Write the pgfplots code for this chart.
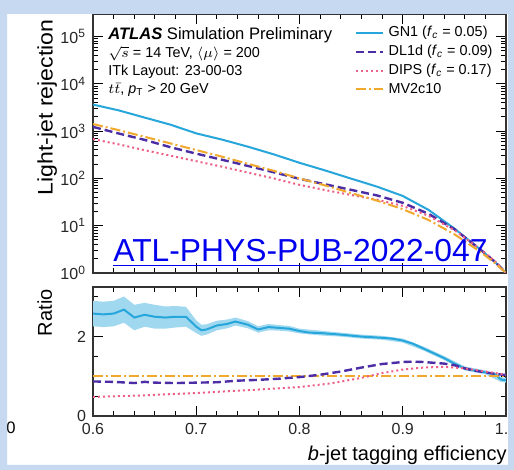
\documentclass[border=0pt]{standalone}
\usepackage{graphicx}
\usepackage{pgfplots}
\pgfplotsset{compat=1.18}
\usepackage{fontspec}
\setmainfont{Liberation Sans}
\definecolor{bgblue}{RGB}{198,217,240}
\definecolor{gnone}{RGB}{38,166,218}
\definecolor{gnband}{RGB}{160,216,240}
\definecolor{dlone}{RGB}{75,45,165}
\definecolor{dips}{RGB}{238,95,135}
\definecolor{mvtwo}{RGB}{240,168,45}
\definecolor{linkblue}{RGB}{0,0,238}

\pgfplotsset{
  atl/.style={
    scale only axis, width=206.5pt,
    tick align=inside, tick pos=both,
    xmin=0.6, xmax=1.0,
    xtick={0.6,0.7,0.8,0.9,1.0}, minor x tick num=4,
    major tick length=5pt, minor tick length=2.5pt,
    axis line style={black!80, line width=0.6pt},
    every tick/.style={black, line width=0.5pt},
    tick label style={font=\fontsize{8}{9}\selectfont, text=black!85},
    /pgf/number format/assume math mode=true,
  }
}

\begin{document}
\begin{tikzpicture}
\useasboundingbox (0pt,0pt) rectangle (257pt,235pt);
\clip (0pt,0pt) rectangle (257pt,235pt);
\fill[white] (0pt,0pt) rectangle (257pt,235pt);

% ---------------- top panel ----------------
\begin{axis}[atl,
  at={(46.5pt,228pt)}, anchor=north west, height=129.5pt,
  ymode=log, ymin=1, ymax=3e5,
  ytick={1,10,100,1000,10000,100000},
  yticklabels={10\textsuperscript{0},10\textsuperscript{1},10\textsuperscript{2},10\textsuperscript{3},10\textsuperscript{4},10\textsuperscript{5}},
  xticklabels={},
  legend style={at={(0.634,0.963)}, anchor=north west, draw=none, fill=none,
    inner sep=0pt, font=\fontsize{7.2}{8}\selectfont, row sep=0pt,
    nodes={inner ysep=1pt, text height=5.5pt, text depth=1.85pt}},
  legend cell align=left,
  legend image code/.code={\draw[#1] (0pt,0pt) -- (13.5pt,0pt);},
]
\addplot[gnone, line width=1pt] coordinates {
(0.600,3646) (0.625,2743) (0.650,1935) (0.675,1370) (0.700,896) (0.725,662)
(0.750,469) (0.775,323) (0.800,214) (0.825,147) (0.850,99) (0.875,67.1)
(0.900,42.6) (0.925,21.6) (0.950,8.71) (0.975,3.16) (0.990,1.66) (1.000,1.0)};
\addlegendentry{GN1 (\textit{f}\textsubscript{\textit{c}} = 0.05)}
\addplot[dlone, line width=1.2pt, dash pattern=on 4pt off 2pt] coordinates {
(0.600,1229) (0.625,890) (0.650,653) (0.675,457) (0.700,334) (0.725,248)
(0.750,184) (0.775,135) (0.800,98) (0.825,75.0) (0.850,57.3) (0.875,43.7)
(0.900,30.5) (0.925,17.8) (0.950,8.45) (0.975,3.16) (0.990,1.67) (1.000,1.0)};
\addlegendentry{DL1d (\textit{f}\textsubscript{\textit{c}} = 0.09)}
\addplot[dips, line width=1pt, dash pattern=on 1pt off 1.5pt] coordinates {
(0.600,678) (0.625,524) (0.650,395) (0.675,303) (0.700,231) (0.725,177)
(0.750,133) (0.775,100) (0.800,73) (0.825,56.6) (0.850,44.6) (0.875,35.6)
(0.900,26.2) (0.925,16.2) (0.950,8.05) (0.975,3.21) (0.990,1.71) (1.000,1.0)};
\addlegendentry{DIPS (\textit{f}\textsubscript{\textit{c}} = 0.17)}
\addplot[mvtwo, line width=1pt, dash pattern=on 5pt off 1.5pt on 1pt off 1.5pt] coordinates {
(0.600,1413) (0.625,1047) (0.650,759) (0.675,550) (0.700,398) (0.725,288)
(0.750,204) (0.775,145) (0.800,100) (0.825,70.8) (0.850,49.0) (0.875,33.9)
(0.900,22.4) (0.925,13.2) (0.950,6.6) (0.975,2.82) (0.990,1.58) (1.000,1.0)};
\addlegendentry{MV2c10}

\node[anchor=west, inner sep=0pt, font=\fontsize{8.3}{9}\selectfont] at (rel axis cs:0.036,0.919) {\textbf{\textit{ATLAS}} Simulation Preliminary};
\node[anchor=west, inner sep=0pt, font=\fontsize{7.2}{8}\selectfont] at (rel axis cs:0.036,0.846) {$\sqrt{s}$ = 14 TeV, $\langle\mu\rangle$ = 200};
\node[anchor=west, inner sep=0pt, font=\fontsize{7.2}{8}\selectfont] at (rel axis cs:0.036,0.776) {ITk Layout: 23-00-03};
\node[anchor=west, inner sep=0pt, font=\fontsize{7.2}{8}\selectfont] at (rel axis cs:0.036,0.707) {$t\bar{t}$, \textit{p}\textsubscript{T} > 20 GeV};
\end{axis}

% ---------------- ratio panel ----------------
\begin{axis}[atl,
  at={(46.5pt,91.5pt)}, anchor=north west, height=64.5pt,
  ymin=0, ymax=3.25,
  ytick={0,2}, minor ytick={0.5,1,1.5,2.5,3},
  xticklabel style={/pgf/number format/fixed, /pgf/number format/precision=1, /pgf/number format/fixed zerofill},
]
\addplot[fill=gnband, draw=none] coordinates {
(0.600,2.90) (0.610,2.88) (0.620,2.90) (0.630,3.01) (0.640,2.80) (0.650,2.85)
(0.660,2.80) (0.670,2.76) (0.680,2.77) (0.690,2.75) (0.700,2.41) (0.705,2.30)
(0.710,2.31) (0.720,2.40) (0.730,2.43) (0.738,2.48) (0.750,2.39) (0.760,2.26)
(0.770,2.32) (0.780,2.29) (0.790,2.27) (0.800,2.20) (0.820,2.15) (0.840,2.10)
(0.860,2.05) (0.880,2.02) (0.900,1.95) (0.920,1.75) (0.940,1.51) (0.960,1.25)
(0.980,1.15) (0.995,0.98) (1.000,0.96)
(1.000,0.84) (0.995,0.86) (0.980,1.05) (0.960,1.15) (0.940,1.41) (0.920,1.65)
(0.900,1.85) (0.880,1.92) (0.860,1.95) (0.840,2.00) (0.820,2.03) (0.800,2.08)
(0.790,2.13) (0.780,2.15) (0.770,2.16) (0.760,2.10) (0.750,2.21) (0.738,2.28)
(0.730,2.21) (0.720,2.16) (0.710,2.05) (0.705,2.02) (0.700,2.09) (0.690,2.25)
(0.680,2.23) (0.670,2.20) (0.660,2.20) (0.650,2.25) (0.640,2.16) (0.630,2.35)
(0.620,2.26) (0.610,2.24) (0.600,2.26)} -- cycle;
\addplot[gnone, line width=1pt] coordinates {
(0.600,2.58) (0.610,2.56) (0.620,2.58) (0.630,2.68) (0.640,2.48) (0.650,2.55)
(0.660,2.50) (0.670,2.48) (0.680,2.50) (0.690,2.50) (0.700,2.25) (0.705,2.16)
(0.710,2.18) (0.720,2.28) (0.730,2.32) (0.738,2.38) (0.750,2.30) (0.760,2.18)
(0.770,2.24) (0.780,2.22) (0.790,2.20) (0.800,2.14) (0.810,2.10) (0.820,2.09)
(0.840,2.05) (0.860,2.00) (0.880,1.97) (0.890,1.95) (0.900,1.90) (0.910,1.82)
(0.920,1.70) (0.930,1.58) (0.940,1.46) (0.950,1.32) (0.960,1.20) (0.970,1.14)
(0.980,1.10) (0.990,1.05) (0.995,0.92) (1.000,0.90)};
\addplot[mvtwo, line width=1pt, dash pattern=on 5pt off 1.5pt on 1pt off 1.5pt] coordinates {
(0.600,1.0) (1.000,1.0)};
\addplot[dlone, line width=1.2pt, dash pattern=on 4pt off 2pt] coordinates {
(0.600,0.87) (0.620,0.86) (0.640,0.83) (0.650,0.86) (0.660,0.84) (0.680,0.83)
(0.700,0.84) (0.720,0.85) (0.740,0.89) (0.760,0.91) (0.780,0.94) (0.800,0.98)
(0.820,1.04) (0.840,1.12) (0.860,1.22) (0.880,1.31) (0.900,1.36) (0.910,1.37)
(0.920,1.36) (0.940,1.32) (0.950,1.28) (0.960,1.20) (0.970,1.14) (0.980,1.10)
(0.990,1.06) (1.000,1.03)};
\addplot[dips, line width=1pt, dash pattern=on 1pt off 1.5pt] coordinates {
(0.600,0.48) (0.650,0.52) (0.700,0.58) (0.750,0.65) (0.800,0.73) (0.830,0.82)
(0.860,0.96) (0.880,1.08) (0.900,1.17) (0.920,1.22) (0.940,1.24) (0.960,1.20)
(0.980,1.12) (1.000,1.04)};
\end{axis}

% axis titles
\node[rotate=90, anchor=north east, inner sep=0pt, font=\fontsize{10.5}{12}\selectfont] at (18.5pt,225.5pt) {\scalebox{1.1}[1]{Light-jet rejection}};
\node[rotate=90, anchor=north east, inner sep=0pt, font=\fontsize{10}{12}\selectfont] at (18.5pt,90.5pt) {Ratio};
\node[anchor=base east, inner sep=0pt, font=\fontsize{10}{12}\selectfont] at (253.5pt,4.5pt) {\textit{b}-jet tagging efficiency};

% link overlay
\node[anchor=base west, inner sep=0pt, text=linkblue, font=\fontsize{15.9}{18}\selectfont] (lnk) at (56.5pt,104pt) {ATL-PHYS-PUB-2022-047};
\draw[linkblue, line width=0.75pt] ([yshift=-1.8pt]lnk.base west) -- ([yshift=-1.8pt]lnk.base east);

% stray label
\node[inner sep=0pt, font=\fontsize{8.3}{9}\selectfont] at (5.5pt,21pt) {0};

% frame
\fill[bgblue, even odd rule] (0pt,0pt) rectangle (257pt,235pt) (3.5pt,2.5pt) rectangle (254pt,228pt);
\end{tikzpicture}
\end{document}
